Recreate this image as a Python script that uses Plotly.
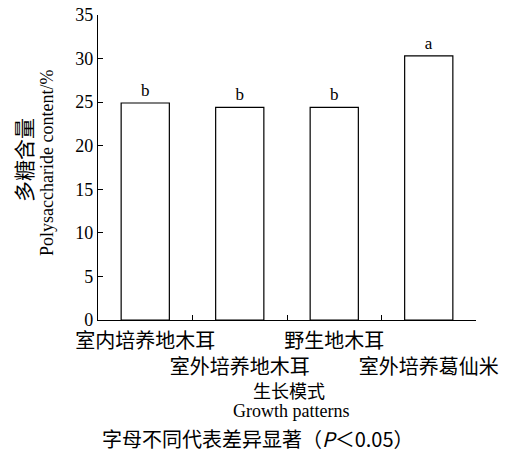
import plotly.graph_objects as go

categories = ["室内培养地木耳", "室外培养地木耳", "野生地木耳", "室外培养葛仙米"]
values = [24.9, 24.4, 24.4, 30.3]
letters = ["b", "b", "b", "a"]
y_ticks = [0, 5, 10, 15, 20, 25, 30, 35]

serif = "Liberation Serif, Times New Roman, serif"
cjk = "Noto Sans CJK SC"

W, H = 513, 453
L, R, T, B = 98, 37, 15, 133

xpos = list(range(len(categories)))
ticktext = [c if i % 2 == 0 else "<br>" + c for i, c in enumerate(categories)]

fig = go.Figure()
fig.add_trace(go.Bar(
    x=xpos, y=values, width=0.51,
    marker=dict(color="white", line=dict(color="black", width=1.2)),
    text=letters, textposition="outside", cliponaxis=False,
    textfont=dict(family=serif, size=17, color="black"),
    showlegend=False,
))
# invisible trace to activate boundary-tick axis
fig.add_trace(go.Scatter(x=[-0.5, 3.5], y=[0, 0], xaxis="x2", mode="markers",
                         marker=dict(opacity=0), showlegend=False, hoverinfo="skip"))

fig.update_layout(
    width=W, height=H,
    margin=dict(l=L, r=R, t=T, b=B),
    plot_bgcolor="white", paper_bgcolor="white",
    xaxis=dict(range=[-0.5, 3.5], tickvals=xpos, ticktext=ticktext, tickangle=0,
               showline=True, linecolor="black", linewidth=1.2,
               ticks="", showgrid=False, zeroline=False, automargin=False,
               ticklabelstandoff=3,
               tickfont=dict(family=cjk, size=20, color="black")),
    xaxis2=dict(range=[-0.5, 3.5], overlaying="x", tickvals=[0.5, 1.5, 2.5, 3.5],
                showticklabels=False, ticks="inside", ticklen=5, tickcolor="black",
                showgrid=False, zeroline=False, side="bottom", anchor="y"),
    yaxis=dict(range=[0, 35], tickvals=y_ticks, showline=True, linecolor="black",
               linewidth=1.2, ticks="inside", ticklen=5, tickcolor="black",
               showgrid=False, zeroline=False, automargin=False,
               tickfont=dict(family=serif, size=18, color="black")),
    annotations=[
        dict(text="多糖含量", x=23, y=160, showarrow=False,
             textangle=-90, font=dict(family=cjk, size=21, color="black")),
        dict(text="Polysaccharide content/%", x=47, y=163, showarrow=False,
             textangle=-90, font=dict(family=serif, size=18, color="black")),
        dict(text="生长模式", x=289, y=390, showarrow=False,
             font=dict(family=cjk, size=18, color="black")),
        dict(text="Growth patterns", x=291, y=411, showarrow=False,
             font=dict(family=serif, size=18, color="black")),
        dict(text="字母不同代表差异显著（<i>P</i>＜0.05）", x=258, y=438, showarrow=False,
             font=dict(family=cjk, size=20, color="black")),
    ],
)
# annotation positions above are picture pixels; convert to paper coords
pw, ph = W - L - R, H - T - B
for a in fig.layout.annotations:
    a.x = (a.x - L) / pw
    a.y = (H - B - a.y) / ph
    a.xref = "paper"; a.yref = "paper"
    a.xanchor = "center"; a.yanchor = "middle"

# remove the browser's default 8px page margin so the figure fills the window
fig.write_html("out.html", config={"displayModeBar": False},
               post_script="document.body.style.margin='0';")
